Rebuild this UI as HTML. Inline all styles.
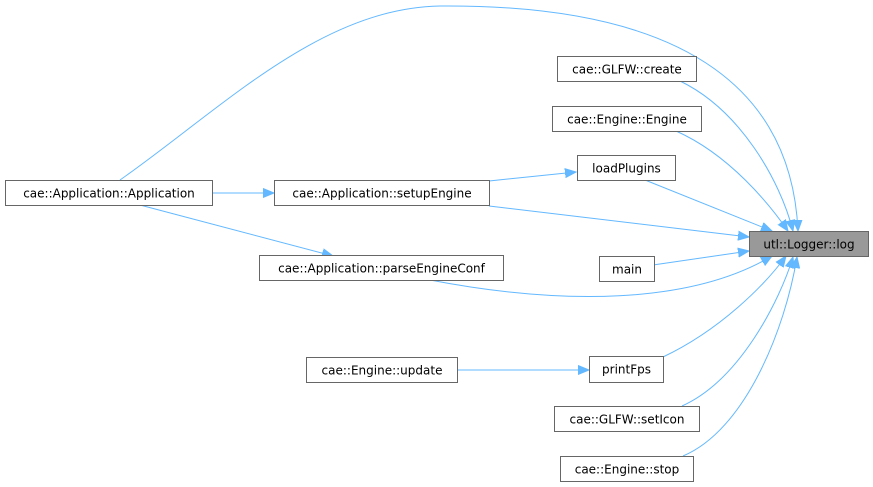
<!DOCTYPE html>
<html><head><meta charset="utf-8"><style>
html,body{margin:0;padding:0;background:#fff;}
svg{display:block;}
text{font-family:"DejaVu Sans","Liberation Sans",sans-serif;font-size:12px;fill:#000;}
.n{fill:#fff;stroke:#666;stroke-width:1}
.e{fill:none;stroke:#63b8ff;stroke-width:1}
</style></head><body>
<svg width="873" height="487" viewBox="0 0 873 487" xmlns="http://www.w3.org/2000/svg">
<defs>
<marker id="a" markerUnits="userSpaceOnUse" markerWidth="12" markerHeight="10" refX="11" refY="5" orient="auto">
<path d="M0,0.5 L11,5 L0,9.5 z" fill="#63b8ff" stroke="#63b8ff" stroke-width="1"/>
</marker>
</defs>
<path class="e" marker-end="url(#a)" d="M120,180 C220,110 320,8 440,6 C700,4 792,100 798,231"/>
<path class="e" marker-end="url(#a)" d="M680,81 C740,110 780,180 793,231"/>
<path class="e" marker-end="url(#a)" d="M676,131 C730,155 770,205 788,231"/>
<path class="e" marker-end="url(#a)" d="M645,180 L772,231"/>
<path class="e" marker-end="url(#a)" d="M489,181 L576,172"/>
<path class="e" marker-end="url(#a)" d="M489,206 L749,237"/>
<path class="e" marker-end="url(#a)" d="M212,193 L274,193"/>
<path class="e" marker-end="url(#a)" d="M140,205 L333,256"/>
<path class="e" marker-end="url(#a)" d="M653,265 L749,251"/>
<path class="e" marker-end="url(#a)" d="M430,280 C560,305 690,305 772,256"/>
<path class="e" marker-end="url(#a)" d="M457,370 L589,370"/>
<path class="e" marker-end="url(#a)" d="M663,357 C720,330 765,285 786,256"/>
<path class="e" marker-end="url(#a)" d="M682,406 C740,380 780,300 793,257"/>
<path class="e" marker-end="url(#a)" d="M683,456 C745,430 785,330 797,257"/>
<rect class="n" x="5.5" y="180.5" width="207" height="25"/><text x="109" y="197.5" text-anchor="middle">cae::Application::Application</text>
<rect class="n" x="274.5" y="180.5" width="215" height="25"/><text x="382" y="197.5" text-anchor="middle">cae::Application::setupEngine</text>
<rect class="n" x="259.5" y="255.5" width="244" height="25"/><text x="381.5" y="272.5" text-anchor="middle">cae::Application::parseEngineConf</text>
<rect class="n" x="306.5" y="357.5" width="151" height="25"/><text x="382" y="374.5" text-anchor="middle">cae::Engine::update</text>
<rect class="n" x="557.5" y="56.5" width="139" height="25"/><text x="627" y="73.5" text-anchor="middle">cae::GLFW::create</text>
<rect class="n" x="552.5" y="106.5" width="149" height="25"/><text x="627" y="123.5" text-anchor="middle">cae::Engine::Engine</text>
<rect class="n" x="577.5" y="155.5" width="98" height="25"/><text x="626.5" y="172.5" text-anchor="middle">loadPlugins</text>
<rect x="749.5" y="231.5" width="119" height="25" fill="#999" stroke="#666"/><text x="809" y="248.5" text-anchor="middle">utl::Logger::log</text>
<rect class="n" x="599.5" y="256.5" width="55" height="25"/><text x="627" y="273.5" text-anchor="middle">main</text>
<rect class="n" x="589.5" y="356.5" width="74" height="26"/><text x="626.5" y="373.5" text-anchor="middle">printFps</text>
<rect class="n" x="554.5" y="406.5" width="145" height="25"/><text x="627" y="423.5" text-anchor="middle">cae::GLFW::setIcon</text>
<rect class="n" x="560.5" y="456.5" width="133" height="25"/><text x="627" y="473.5" text-anchor="middle">cae::Engine::stop</text>
</svg>
</body></html>
